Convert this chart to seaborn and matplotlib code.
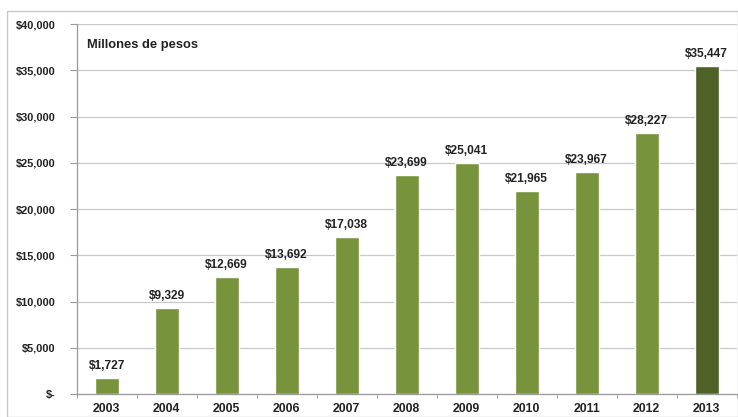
import matplotlib
matplotlib.use("Agg")
import matplotlib.pyplot as plt
import matplotlib.patches as mpatches
import seaborn as sns
import pandas as pd
import numpy as np

years = ["2003", "2004", "2005", "2006", "2007", "2008", "2009", "2010", "2011", "2012", "2013"]
values = [1727, 9329, 12669, 13692, 17038, 23699, 25041, 21965, 23967, 28227, 35447]
bar_colors = ["#77933C"] * 10 + ["#4F6228"]
y_ticks = [0, 5000, 10000, 15000, 20000, 25000, 30000, 35000, 40000]
y_labels = ["$-", "$5,000", "$10,000", "$15,000", "$20,000", "$25,000", "$30,000", "$35,000", "$40,000"]
unit_label = "Millones de pesos"

sns.set_style("white")
plt.rcParams['font.family'] = ['Liberation Sans', 'DejaVu Sans']

df = pd.DataFrame({"year": years, "value": values})

fig = plt.figure(figsize=(7.38, 4.17), dpi=100)
ax = fig.add_axes([0.104, 0.055, 0.894, 0.887])

sns.barplot(data=df, x="year", y="value", hue="year", palette=bar_colors,
            width=0.4, legend=False, ax=ax, saturation=1)

ax.set_ylim(0, 40000)
ax.set_xlim(-0.5, len(years) - 0.5)
ax.set_yticks(y_ticks)
ax.set_yticklabels(y_labels, fontsize=7.9, fontweight="bold", color="#222222")
ax.set_xticks(range(len(years)))
ax.set_xticklabels(years, fontsize=8.8, fontweight="bold", color="#222222")
ax.set_xlabel("")
ax.set_ylabel("")

ax.yaxis.grid(True, color="#c8c8c8", linewidth=0.9)
ax.set_axisbelow(True)

for s in ["top", "right"]:
    ax.spines[s].set_visible(False)
ax.spines["left"].set_color("#9a9a9a")
ax.spines["bottom"].set_color("#9a9a9a")
ax.spines["left"].set_linewidth(0.9)
ax.spines["bottom"].set_linewidth(0.9)

ax.tick_params(axis="y", which="major", left=True, length=5, color="#9a9a9a", pad=10)
ax.tick_params(axis="x", which="major", bottom=False, pad=3)
ax.set_xticks(np.arange(-0.5, len(years), 1), minor=True)
ax.tick_params(axis="x", which="minor", bottom=True, length=3, color="#9a9a9a")

for i, v in enumerate(values):
    ax.text(i, v + 650, f"${v:,}", ha="center", va="bottom", fontsize=8.6,
            fontweight="bold", color="#222222")

ax.text(0.016, 0.96, unit_label, transform=ax.transAxes, ha="left", va="top",
        fontsize=9.3, fontweight="bold", color="#222222")

frame = mpatches.Rectangle((7 / 738, 0), 1 - 7 / 738, 1 - 11 / 417,
                           transform=fig.transFigure, fill=False,
                           edgecolor="#c8c8c8", linewidth=1.0)
fig.patches.append(frame)

fig.savefig("out.png", dpi=100)
